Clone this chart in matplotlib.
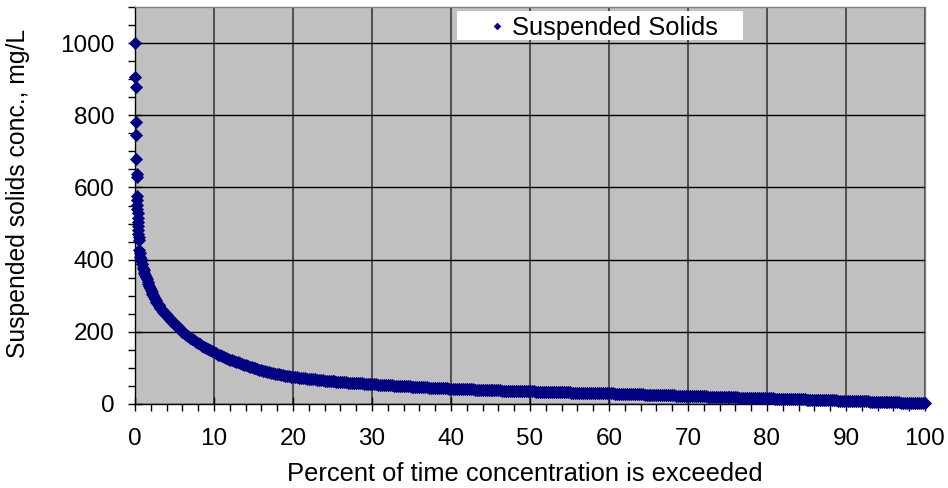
import numpy as np
import matplotlib
matplotlib.use("Agg")
import matplotlib.pyplot as plt
from matplotlib.ticker import MultipleLocator
from matplotlib.patches import Rectangle

plt.rcParams['font.family'] = ['Liberation Sans', 'DejaVu Sans']

# ---- data ----
# highest values: explicit (percent exceeded, concentration) pairs
pct_top = [0.00, 0.04, 0.08, 0.10, 0.14, 0.18, 0.20, 0.22, 0.24, 0.26, 0.28,
           0.30, 0.32, 0.34, 0.36, 0.38, 0.40, 0.43, 0.46, 0.50, 0.56, 0.62,
           0.68, 0.74]
conc_top = [1000, 907, 879, 780, 745, 680, 637, 630, 577, 565, 551,
            540, 528, 515, 503, 492, 481, 470, 462, 454, 428, 418,
            408, 401]

# 0.8 % to 6 %, every 0.1 %
pct_a = np.linspace(0.8, 6.0, 53)
conc_a = [396, 387,
          378, 371, 364, 358, 351, 345, 339, 333, 327, 321,
          316, 311, 306, 301, 297, 292, 288, 284, 280, 277,
          274, 271, 267, 264, 261, 258, 255, 253, 250, 248,
          246, 243, 241, 238, 236, 234, 231, 229, 226, 224,
          222, 220, 218, 216, 214, 212, 210, 207, 205, 202,
          200]

# 6.25 % to 20 %, every 0.25 %
pct_b = np.linspace(6.25, 20.0, 56)
conc_b = [196, 192, 188, 184, 180, 176, 172, 168, 165, 161, 158, 155,
          152, 149, 146, 143, 140, 137, 135, 132, 130, 127, 125, 123,
          121, 119, 117, 115, 113, 111, 109, 107, 105, 103, 101.5, 100,
          98.5, 97, 95.5, 94, 92.5, 91, 89.5, 88, 86.8, 85.5, 84.2, 83,
          81.8, 80.5, 79.2, 78, 77.2, 76.5, 75.7, 75]

# 20.25 % to 100 %, every 0.25 %
pct_c = np.linspace(20.25, 100.0, 320)
conc_c = [74.4, 73.8, 73.1, 72.5,  71.8, 71.2, 70.6, 70,
          69.4, 68.8, 68.1, 67.5,  66.8, 66.2, 65.6, 65,
          64.5, 64, 63.5, 63,      62.5, 62, 61.5, 61,
          60.6, 60.2, 59.9, 59.5,  59.1, 58.8, 58.4, 58,
          57.6, 57.2, 56.9, 56.5,  56.1, 55.8, 55.4, 55,
          54.6, 54.2, 53.9, 53.5,  53.1, 52.8, 52.4, 52,
          51.7, 51.4, 51.1, 50.8,  50.4, 50.1, 49.8, 49.5,
          49.2, 48.9, 48.5, 48.2,  47.9, 47.6, 47.3, 47,
          46.7, 46.4, 46.1, 45.8,  45.4, 45.1, 44.8, 44.5,
          44.2, 44, 43.7, 43.5,    43.2, 43, 42.7, 42.5,
          42.3, 42.1, 41.9, 41.7,  41.5, 41.3, 41.1, 40.9,
          40.7, 40.5, 40.3, 40.1,  39.9, 39.7, 39.5, 39.3,
          39.1, 38.9, 38.7, 38.5,  38.3, 38.1, 37.9, 37.8,
          37.6, 37.4, 37.2, 37.1,  36.9, 36.7, 36.5, 36.4,
          36.2, 36, 35.8, 35.7,    35.5, 35.3, 35.1, 35,
          34.8, 34.7, 34.5, 34.4,  34.2, 34.1, 33.9, 33.8,
          33.6, 33.5, 33.3, 33.2,  33, 32.9, 32.7, 32.6,
          32.4, 32.3, 32.1, 32,    31.8, 31.7, 31.6, 31.5,
          31.3, 31.2, 31.1, 31,    30.8, 30.7, 30.6, 30.5,
          30.3, 30.2, 30.1, 30,    29.8, 29.7, 29.6, 29.5,
          29.3, 29.1, 29, 28.8,    28.6, 28.4, 28.3, 28.1,
          27.9, 27.7, 27.6, 27.4,  27.2, 27, 26.9, 26.7,
          26.5, 26.3, 26.2, 26,    25.8, 25.6, 25.5, 25.3,
          25.1, 24.9, 24.8, 24.6,  24.4, 24.2, 24.1, 23.9,
          23.7, 23.5, 23.4, 23.2,  23, 22.8, 22.7, 22.5,
          22.3, 22.1, 22, 21.8,    21.6, 21.4, 21.3, 21.1,
          20.9, 20.7, 20.6, 20.4,  20.2, 20, 19.9, 19.7,
          19.5, 19.3, 19.2, 19,    18.8, 18.7, 18.5, 18.4,
          18.2, 18, 17.9, 17.7,    17.5, 17.4, 17.2, 17,
          16.9, 16.7, 16.5, 16.4,  16.2, 16.1, 15.9, 15.8,
          15.6, 15.4, 15.3, 15.1,  14.9, 14.7, 14.6, 14.4,
          14.2, 14, 13.9, 13.7,    13.5, 13.3, 13.2, 13,
          12.8, 12.6, 12.5, 12.3,  12.1, 11.9, 11.8, 11.6,
          11.4, 11.2, 11.1, 10.9,  10.7, 10.5, 10.4, 10.2,
          10, 9.8, 9.7, 9.5,       9.3, 9.1, 9, 8.8,
          8.7, 8.5, 8.3, 8.1,      8, 7.8, 7.6, 7.4,
          7.3, 7.1, 7, 6.8,        6.6, 6.4, 6.3, 6.1,
          5.9, 5.7, 5.6, 5.4,      5.3, 5.1, 5, 4.8,
          4.6, 4.4, 4.3, 4.1,      4, 3.8, 3.7, 3.5,
          3.3, 3.1, 3, 2.8,        2.6, 2.4, 2.2, 2]

pct = np.concatenate([pct_top, pct_a, pct_b, pct_c])
conc = np.concatenate([conc_top, conc_a, conc_b, conc_c])

series_label = "Suspended Solids"
x_label = "Percent of time concentration is exceeded"
y_label = "Suspended solids conc., mg/L"
x_ticks = list(range(0, 101, 10))
y_ticks = list(range(0, 1001, 200))

# ---- figure ----
fig = plt.figure(figsize=(9.48, 4.88), dpi=100)
ax = fig.add_axes([135/948, 1 - 404/488, 790/948, 397/488])
ax.set_facecolor('#C0C0C0')
ax.set_axisbelow(True)

navy = '#000080'
ax.plot(pct, conc, linestyle='none', marker='D', ms=6.0, mew=0.6,
        color=navy, mec=navy, clip_on=False, zorder=3, label=series_label)

ax.set_xlim(0, 100)
ax.set_ylim(0, 1100)
ax.set_xticks(x_ticks)
ax.set_yticks(y_ticks)
ax.xaxis.set_minor_locator(MultipleLocator(2))
ax.yaxis.set_minor_locator(MultipleLocator(50))

ax.grid(True, which='major', axis='y', color='black', lw=1.0)
ax.grid(True, which='major', axis='x', color='#303030', lw=1.1)

for s in ['left', 'bottom']:
    ax.spines[s].set_color('black')
    ax.spines[s].set_linewidth(1.0)
for s in ['top', 'right']:
    ax.spines[s].set_color('#808080')
    ax.spines[s].set_linewidth(1.0)

fs_tick = 17.5
fs_lab = 18.4
ax.tick_params(axis='both', which='major', direction='inout', length=10,
               width=1, color='black', labelsize=fs_tick)
ax.tick_params(axis='both', which='minor', direction='out', length=5,
               width=1, color='black')
ax.tick_params(axis='x', which='major', pad=12)
ax.tick_params(axis='y', which='major', pad=10)

ax.set_xlabel(x_label, fontsize=fs_lab, va='center')
ax.xaxis.set_label_coords((524.5 - 135) / 790, (404 - 474) / 397)
ax.set_ylabel(y_label, fontsize=17.8, va='center')
ax.yaxis.set_label_coords((18 - 135) / 790, (404 - 193) / 397)

# legend box
ax.add_patch(Rectangle((0.4076, 0.917), 0.362, 0.073, transform=ax.transAxes,
                       facecolor='white', edgecolor='none', zorder=4,
                       clip_on=False))
ax.legend(loc='center left', bbox_to_anchor=((487 - 135) / 790, 0.947),
          frameon=False, fontsize=fs_lab, borderpad=0, borderaxespad=0,
          handlelength=0.8, handletextpad=0.16, markerscale=0.55)

fig.savefig('out.png', dpi=100)
